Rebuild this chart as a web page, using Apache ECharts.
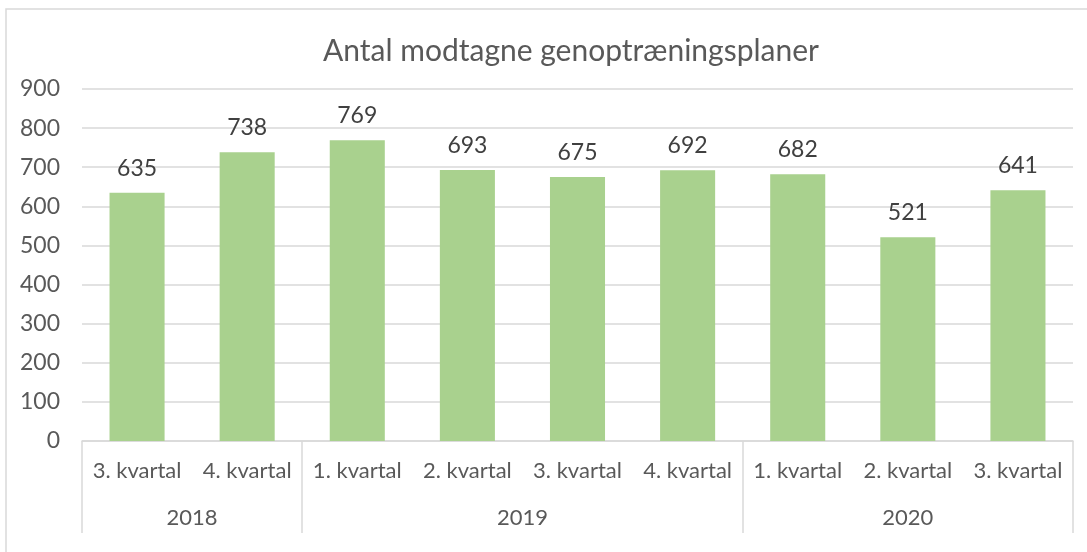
<!DOCTYPE html>
<html>
<head>
<meta charset="utf-8">
<script src="https://cdn.jsdelivr.net/npm/echarts@6/dist/echarts.min.js"></script>
<style>
  html, body { margin: 0; padding: 0; background: #fff; }
  #chart { width: 1087px; height: 552px; }
</style>
</head>
<body>
<div id="chart"></div>
<script>
// Quarterly counts of received rehabilitation plans
const quarters = ['3. kvartal', '4. kvartal', '1. kvartal', '2. kvartal', '3. kvartal', '4. kvartal', '1. kvartal', '2. kvartal', '3. kvartal'];
const values = [635, 738, 769, 693, 675, 692, 682, 521, 641];
const years = ['2018', '2019', '2020'];
const quartersPerYear = [2, 4, 3];
const yTicks = { min: 0, max: 900, step: 100 };

// Start index of every year group, and the centre of each group in category units
const groupStarts = [];
const groupCentres = {};
let acc = 0;
quartersPerYear.forEach(function (n, i) {
  groupStarts.push(acc);
  groupCentres[(acc + n / 2).toFixed(1)] = years[i];
  acc += n;
});

const FONT = 'Lato, "Open Sans", sans-serif';
const GREY_TEXT = '#595959';
const GRID_GREY = '#d9d9d9';

const chart = echarts.init(document.getElementById('chart'), null, { renderer: 'canvas' });

chart.setOption({
  animation: false,
  backgroundColor: '#ffffff',
  textStyle: { fontFamily: FONT },
  graphic: [{
    type: 'rect',
    shape: { x: 6, y: 9, width: 1200, height: 700 },
    style: { fill: 'none', stroke: GRID_GREY, lineWidth: 1.5 },
    silent: true
  }],
  title: {
    text: 'Antal modtagne genoptræningsplaner',
    left: 571,
    top: 36,
    textAlign: 'center',
    padding: 0,
    textStyle: { fontFamily: FONT, fontSize: 30, fontWeight: 'normal', color: GREY_TEXT }
  },
  grid: { left: 82, right: 14, top: 89, bottom: 111, containLabel: false },
  xAxis: [{
    type: 'category',
    data: quarters,
    position: 'bottom',
    axisLine: { show: true, lineStyle: { color: GRID_GREY, width: 1.5 } },
    axisTick: {
      show: true,
      length: 92,
      interval: function (index) { return groupStarts.indexOf(index) >= 0; },
      lineStyle: { color: GRID_GREY, width: 1.5 }
    },
    axisLabel: { interval: 0, margin: 19, color: GREY_TEXT, fontSize: 22, fontFamily: FONT }
  }, {
    type: 'value',
    min: 0,
    max: quarters.length,
    interval: 0.5,
    position: 'bottom',
    axisLine: { show: false },
    axisTick: { show: false },
    splitLine: { show: false },
    axisLabel: {
      margin: 66,
      color: GREY_TEXT,
      fontSize: 22,
      fontFamily: FONT,
      formatter: function (v) { return groupCentres[v.toFixed(1)] || ''; }
    }
  }],
  yAxis: {
    type: 'value',
    min: yTicks.min,
    max: yTicks.max,
    interval: yTicks.step,
    axisLine: { show: false },
    axisTick: { show: false },
    splitLine: { lineStyle: { color: GRID_GREY, width: 1.5 } },
    axisLabel: { margin: 22, color: GREY_TEXT, fontSize: 23, fontFamily: FONT }
  },
  series: [{
    type: 'bar',
    xAxisIndex: 0,
    data: values,
    barWidth: '50%',
    itemStyle: { color: '#a9d18e' },
    label: {
      show: true,
      position: 'top',
      distance: 13,
      color: '#404040',
      fontSize: 23,
      fontFamily: FONT
    }
  }]
});
</script>
</body>
</html>
